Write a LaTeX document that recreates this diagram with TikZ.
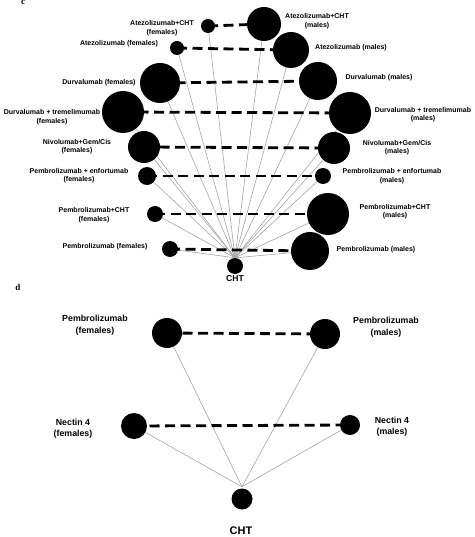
\documentclass[tikz,border=0pt]{standalone}
\usepackage{fontspec}
\setmainfont{Liberation Sans}
\newfontfamily\serifbf{Liberation Serif}
\usetikzlibrary{backgrounds}
\tikzset{
  dot/.style={circle,fill=black,draw=none,inner sep=0pt,minimum size=#1},
  lab/.style={inner sep=0pt,align=center,font=\fontsize{7}{8.4}\selectfont\bfseries},
  labd/.style={inner sep=0pt,align=center,font=\fontsize{8.8}{11.5}\selectfont\bfseries},
  spoke/.style={draw={rgb,255:red,165;green,165;blue,165},line width=0.6pt},
  pair/.style={draw=black,line width=2.8pt,dash pattern=on 10pt off 5.5pt},
  panel/.style={inner sep=0pt,font=\serifbf\fontsize{9}{10}\selectfont\bfseries}
}
\begin{document}
\begin{tikzpicture}[x=1pt,y=-1pt]
\useasboundingbox (0,0) rectangle (474,537);
% panel labels
\node[panel] (pc) at (23,2.5) {c};
\node[panel] (pd) at (18,287) {d};
% ---------- panel c ----------
\node[dot=14pt] (f1) at (208,26) {};
\node[dot=14pt] (f2) at (177,48) {};
\node[dot=40pt] (f3) at (160,83) {};
\node[dot=42pt] (f4) at (123,112) {};
\node[dot=32pt] (f5) at (144,147) {};
\node[dot=18pt] (f6) at (147,176) {};
\node[dot=16pt] (f7) at (155,214) {};
\node[dot=16pt] (f8) at (170,249) {};
\node[dot=34pt] (m1) at (264,24) {};
\node[dot=36pt] (m2) at (291,50) {};
\node[dot=38pt] (m3) at (318,81) {};
\node[dot=42pt] (m4) at (350,113) {};
\node[dot=32pt] (m5) at (334,148) {};
\node[dot=16pt] (m6) at (323,176) {};
\node[dot=42pt] (m7) at (328,214) {};
\node[dot=38pt] (m8) at (310,251) {};
\node[dot=16pt] (cht) at (235,266) {};
% labels c
\node[lab] (lf1) at (162,28) {Atezolizumab+CHT\\(females)};
\node[lab] (lf2) at (119,44) {Atezolizumab (females)};
\node[lab] (lf3) at (99,83) {Durvalumab (females)};
\node[lab] (lf4) at (52,117) {Durvalumab + tremelimumab\\(females)};
\node[lab] (lf5) at (77,146.5) {Nivolumab+Gem/Cis\\(females)};
\node[lab] (lf6) at (79,175.5) {Pembrolizumab + enfortumab\\(females)};
\node[lab] (lf7) at (94,215) {Pembrolizumab+CHT\\(females)};
\node[lab] (lf8) at (105,247) {Pembrolizumab (females)};
\node[lab] (lm1) at (317,21) {Atezolizumab+CHT\\(males)};
\node[lab] (lm2) at (351,48) {Atezolizumab (males)};
\node[lab] (lm3) at (379,78) {Durvalumab (males)};
\node[lab] (lm4) at (423,114.5) {Durvalumab + tremelimumab\\(males)};
\node[lab] (lm5) at (397,147.5) {Nivolumab+Gem/Cis\\(males)};
\node[lab] (lm6) at (392,176) {Pembrolizumab + enfortumab\\(males)};
\node[lab] (lm7) at (395,211.5) {Pembrolizumab+CHT\\(males)};
\node[lab] (lm8) at (376,250) {Pembrolizumab (males)};
\node[inner sep=0pt,font=\fontsize{8.6}{10}\selectfont\bfseries] (lcht) at (235,278.5) {CHT};
% ---------- panel d ----------
\node[dot=30pt] (pf) at (167,333) {};
\node[dot=30pt] (pm) at (325,334) {};
\node[dot=26pt] (nf) at (134,426) {};
\node[dot=20pt] (nm) at (350,425) {};
\node[dot=21pt] (chtd) at (242,499) {};
\node[labd] (lpf) at (95,325) {Pembrolizumab\\(females)};
\node[labd] (lpm) at (386,327) {Pembrolizumab\\(males)};
\node[labd] (lnf) at (73,428.5) {Nectin 4\\(females)};
\node[labd] (lnm) at (392,426.5) {Nectin 4\\(males)};
\node[inner sep=0pt,font=\fontsize{11}{13}\selectfont\bfseries] (lchtd) at (241,530.5) {CHT};
% ---------- connectors ----------
\begin{scope}[on background layer]
\foreach \n in {f1,f2,f3,f4,f5,f6,f7,f8,m1,m2,m3,m4,m5,m6,m7,m8}
  \draw[spoke] (\n.center) -- (cht.north);
\foreach \a/\b in {f1/m1,f2/m2,f3/m3,f4/m4,f5/m5,f6/m6,f7/m7,f8/m8}
  \draw[pair] (\a.center) -- (\b.center);
\foreach \n in {pf,pm,nf,nm}
  \draw[spoke] (\n.center) -- ([yshift=1.5pt]chtd.north);
\draw[pair] (pf.center) -- (pm.center);
\draw[pair] (nf.center) -- (nm.center);
\end{scope}
\end{tikzpicture}
\end{document}
